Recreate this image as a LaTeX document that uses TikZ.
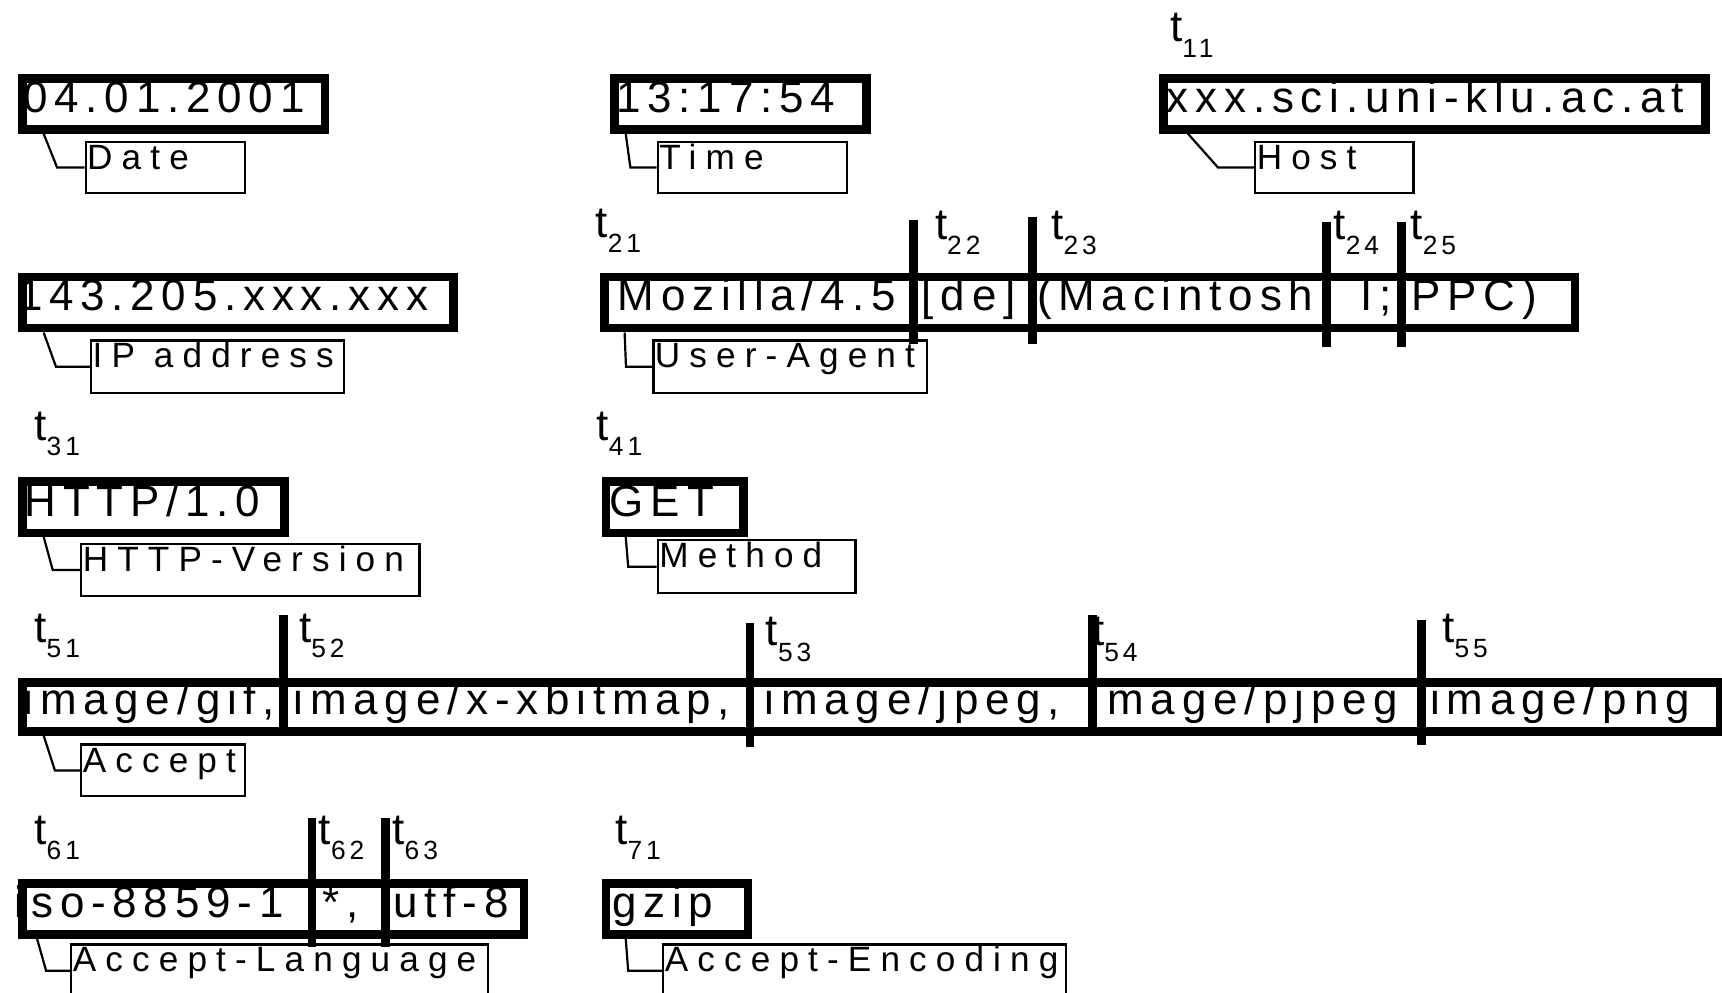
\documentclass[tikz,border=0pt]{standalone}
\usepackage{fontspec}
\setmainfont{Liberation Sans}
\newfontfamily\fieldface[LetterSpace=15.5]{Liberation Sans}
\newfontfamily\tagface[LetterSpace=26]{Liberation Sans}
\newfontfamily\subface[LetterSpace=15]{Liberation Sans}
\newcommand\fieldfont{\fieldface\fontsize{20pt}{20pt}\selectfont}
\newcommand\tagfont{\tagface\fontsize{16pt}{16pt}\selectfont}
\newcommand\tfont{\fontsize{20pt}{20pt}\selectfont}
\newcommand\subfont{\subface\fontsize{12pt}{12pt}\selectfont}
\newcommand\pxu{0.5pt}
\newcommand\fw{7.5}% border width of the value boxes, in px

\tikzset{
  field/.style={draw, line width=\fw*\pxu, inner sep=0pt, anchor=north west},
  tagbox/.style={draw, line width=1pt, inner sep=0pt, anchor=north west},
  tok/.style={anchor=base west, inner sep=0pt, font=\fieldfont},
  tagtext/.style={anchor=base west, inner sep=0pt, font=\tagfont},
  tmark/.style={anchor=base west, inner sep=0pt, font=\tfont},
  splitbar/.style={line width=4pt},
  conn/.style={line width=1pt},
}

% thick value box: name, left, top, width, height (outer edge)
\newcommand\Field[5]{\node[field, minimum width={(#4-\fw)*\pxu}, minimum height={(#5-\fw)*\pxu}] (#1) at ({#2+\fw/2},{#3+\fw/2}) {};}
% thin name box with its text near the top: name, left, top, width, height, text
\newcommand\Tag[6]{%
  \node[tagbox, minimum width={(#4-2)*\pxu}, minimum height={(#5-2)*\pxu}] (#1) at ({#2+1},{#3+1}) {};
  \node[tagtext] (#1-text) at ({#2+3},{#3+27}) {#6};}
% token marker t with index: name, x, baseline, index
\newcommand\TMark[4]{\node[tmark] (#1) at (#2,#3) {t\raisebox{-7pt}{\subfont #4}};}
% token split: name, x, top, bottom
\newcommand\Split[4]{\coordinate (#1a) at (#2,#3); \coordinate (#1b) at (#2,#4); \draw[splitbar] (#1a) -- (#1b);}
% link from a value box to its name box
\newcommand\Link[4]{\draw[conn] ([xshift=#2*\pxu]#1.south west) -- ([xshift=-#4*\pxu]#3.west) -- (#3.west);}

\begin{document}
\begin{tikzpicture}[x=0.5pt, y=-0.5pt]
\useasboundingbox (0,0) rectangle (1568,904);

% ---------- row 1 ----------
\TMark{t11}{1065}{38}{11}
\Field{date}{13}{64}{283}{54}
\node[tok] (dateval) at (21,102) {04.01.2001};
\Field{time}{552}{64}{237}{54}
\node[tok] (timeval) at (561,102) {13:17:54};
\Field{host}{1052}{64}{501}{54}
\node[tok] (hostval) at (1062,102) {xxx.sci.uni-klu.ac.at};
\Tag{datetag}{76}{127}{147}{49}{Date}
\Tag{timetag}{597}{127}{174}{49}{Time}
\Tag{hosttag}{1141}{127}{146}{49}{Host}
\Link{date}{23}{datetag}{25}
\Link{time}{14}{timetag}{24}
\Link{host}{26}{hosttag}{33}

% ---------- row 2 ----------
\TMark{t21}{542}{216}{21}
\TMark{t22}{851}{218}{22}
\TMark{t23}{957}{218}{23}
\TMark{t24}{1214}{218}{24}
\TMark{t25}{1284}{218}{25}
\Field{ip}{13}{245}{400}{54}
\node[tok] (ipval) at (16,283) {143.205.xxx.xxx};
\Field{ua}{543}{245}{891}{54}
\node[tok] (ua1) at (562,283) {Mozilla/4.5};
\node[tok] (ua2) at (839,283) {[de]};
\node[tok] (ua3) at (944,283) {(Macintosh;};
\node[tok] (ua4) at (1238,283) {I;};
\node[tok] (ua5) at (1285,283) {PPC)};
\Split{s22}{832}{200}{313}
\Split{s23}{940}{198}{313}
\Split{s24}{1208}{202}{316}
\Split{s25}{1276}{202}{316}
\Tag{iptag}{81}{308}{232}{50}{IP address}
\Tag{uatag}{593}{308}{251}{50}{User-Agent}
\Link{ip}{23}{iptag}{31}
\Link{ua}{22}{uatag}{24}

% ---------- row 3 ----------
\TMark{t31}{31}{401}{31}
\TMark{t41}{543}{401}{41}
\Field{http}{13}{431}{246}{54}
\node[tok] (httpval) at (22,470) {HTTP/1.0};
\Field{get}{544}{431}{133}{54}
\node[tok] (getval) at (555,470) {GET};
\Tag{httptag}{72}{493}{310}{50}{HTTP-Version}
\Tag{methodtag}{597}{490}{182}{50}{Method}
\Link{http}{23}{httptag}{25}
\Link{get}{22}{methodtag}{26}

% ---------- row 4 ----------
\TMark{t51}{31}{585}{51}
\TMark{t52}{272}{585}{52}
\TMark{t53}{697}{588}{53}
\TMark{t54}{994}{588}{54}
\TMark{t55}{1313}{585}{55}
\Field{accept}{13}{614}{1553}{52}
\node[tok] (acc1) at (21,651) {image/gif,};
\node[tok] (acc2) at (267,651) {image/x-xbitmap,};
\node[tok] (acc3) at (696,651) {image/jpeg,};
\node[tok] (acc4) at (993,651) {image/pjpeg};
\node[tok] (acc5) at (1302,651) {image/png};
\Split{s52}{258}{560}{670}
\Split{s53}{683}{567}{680}
\Split{s54}{995}{560}{670}
\Split{s55}{1294}{565}{678}
\Tag{accepttag}{72}{676}{151}{49}{Accept}
\Link{accept}{23}{accepttag}{23}

% ---------- row 5 ----------
\TMark{t61}{31}{769}{61}
\TMark{t62}{290}{769}{62}
\TMark{t63}{357}{769}{63}
\TMark{t71}{560}{769}{71}
\Field{lang}{13}{797}{464}{54}
\node[tok] (lang1) at (13,835) {iso-8859-1};
\node[tok] (lang2) at (293,835) {*,};
\node[tok] (lang3) at (358,835) {utf-8};
\Field{gzip}{544}{797}{137}{54}
\node[tok] (gzipval) at (557,835) {gzip};
\Split{s62}{284}{745}{862}
\Split{s63}{351}{745}{862}
\Tag{langtag}{63}{858}{381}{50}{Accept-Language}
\Tag{enctag}{602}{858}{369}{50}{Accept-Encoding}
\Link{lang}{17}{langtag}{22}
\Link{gzip}{22}{enctag}{31}
\end{tikzpicture}
\end{document}
